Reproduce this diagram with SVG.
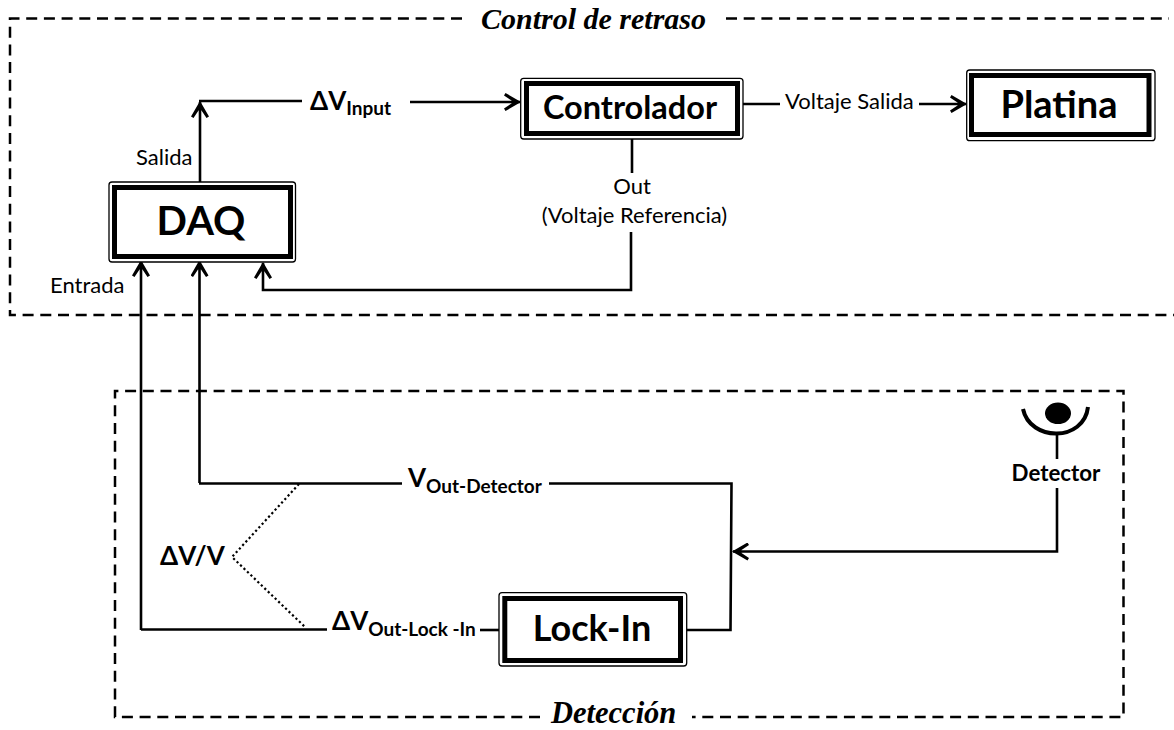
<svg xmlns="http://www.w3.org/2000/svg" width="1174" height="730" viewBox="0 0 1174 730">
<style>
text{font-family:Lato,"Liberation Sans",sans-serif;fill:#000}
.b{font-weight:700}
.t{font-family:"Liberation Serif",serif;font-weight:700;font-style:italic;font-size:30px}
.n{font-size:22px}
.w{fill:none;stroke:#000;stroke-width:2.6}
.d{fill:none;stroke:#000;stroke-width:2.5;stroke-dasharray:11 6.700}
.f1{fill:#fff;stroke:#000;stroke-width:1.300}
.f2{fill:#fff;stroke:#000;stroke-width:5}
</style>
<defs>
<marker id="a" markerUnits="userSpaceOnUse" markerWidth="18" markerHeight="18" refX="16" refY="9" orient="auto"><path d="M17 9L1.500 0L0 2.500L7.500 7.500V10.500L0 15.500L1.500 18Z" fill="#000"/></marker>
</defs>
<rect width="1174" height="730" fill="#fff"/>
<g id="frames">
<path class="d" d="M462 18.500H10V315H1174"/>
<path class="d" d="M726 18.500H1169"/>
<path class="d" d="M540 717H115V391H1123.500V717H692"/>
</g>
<g id="connectors">
<path class="w" marker-end="url(#a)" d="M200 182V102"/>
<path class="w" d="M199 101H302"/>
<path class="w" marker-end="url(#a)" d="M410 102H520"/>
<path class="w" d="M743 104H780"/>
<path class="w" marker-end="url(#a)" d="M919 104H966"/>
<path class="w" d="M632 136V173"/>
<path class="w" marker-end="url(#a)" d="M631 232V290H263V263"/>
<path class="w" marker-end="url(#a)" d="M141 630V261"/>
<path class="w" d="M141 629.500H327"/>
<path class="w" marker-end="url(#a)" d="M199.500 483V261"/>
<path class="w" d="M199 483.500H402"/>
<path class="w" d="M549 483.500H731.500L730.500 630H687"/>
<path class="w" d="M480 630H499"/>
<path class="w" marker-end="url(#a)" d="M1057 488V551.500H733"/>
<path class="w" d="M1057 434V459"/>
<path d="M299 484L232 557L305 627" fill="none" stroke="#000" stroke-width="2.200" stroke-dasharray="2.200 2.600"/>
</g>
<g id="daq"><rect class="f1" x="109" y="182" width="186.500" height="80" rx="3"/><rect class="f2" x="114.500" y="187.500" width="176" height="69"/><text class="b" x="201" y="235" font-size="40" text-anchor="middle">DAQ</text></g>
<g id="controlador"><rect class="f1" x="520.700" y="78.300" width="222.300" height="60.700" rx="3"/><rect class="f2" x="526.500" y="83.500" width="211" height="50"/><text class="b" x="630" y="119" font-size="32.500" text-anchor="middle">Controlador</text></g>
<g id="platina"><rect class="f1" x="966.700" y="70" width="188.300" height="70.700" rx="3"/><rect class="f2" x="971.500" y="75.500" width="177.500" height="59"/><text class="b" x="1059" y="118" font-size="38" text-anchor="middle">Platina</text></g>
<g id="lockin"><rect class="f1" x="499" y="592.700" width="187.700" height="73.300" rx="3"/><rect class="f2" x="504.800" y="598.500" width="175.700" height="62"/><text class="b" x="592" y="641" font-size="36" text-anchor="middle">Lock-In</text></g>
<g id="detector">
<ellipse cx="1058" cy="413.300" rx="13" ry="10.800"/>
<path d="M1023 409C1030 442 1084 442 1088 407" fill="none" stroke="#000" stroke-width="4"/>
<text class="b" x="1056" y="480.500" font-size="22.300" text-anchor="middle">Detector</text>
</g>
<g id="labels">
<text class="t" x="481" y="29">Control de retraso</text>
<text class="t" x="551" y="723" style="font-size:30.500px">Detección</text>
<text class="b" x="310" y="110" font-size="26">ΔV<tspan font-size="19" dy="5">Input</tspan></text>
<text class="n" x="136" y="165">Salida</text>
<text class="n" x="50" y="293">Entrada</text>
<text class="n" x="785" y="109">Voltaje Salida</text>
<text class="n" x="632" y="194" text-anchor="middle">Out</text>
<text class="n" x="634.500" y="223" text-anchor="middle">(Voltaje Referencia)</text>
<text class="b" x="408" y="487" font-size="26">V<tspan font-size="19" dy="6">Out-Detector</tspan></text>
<text class="b" x="332" y="630" font-size="26">ΔV<tspan font-size="19" dy="6">Out-Lock -In</tspan></text>
<text class="b" x="160" y="564.500" font-size="26">ΔV/V</text>
</g>
</svg>
